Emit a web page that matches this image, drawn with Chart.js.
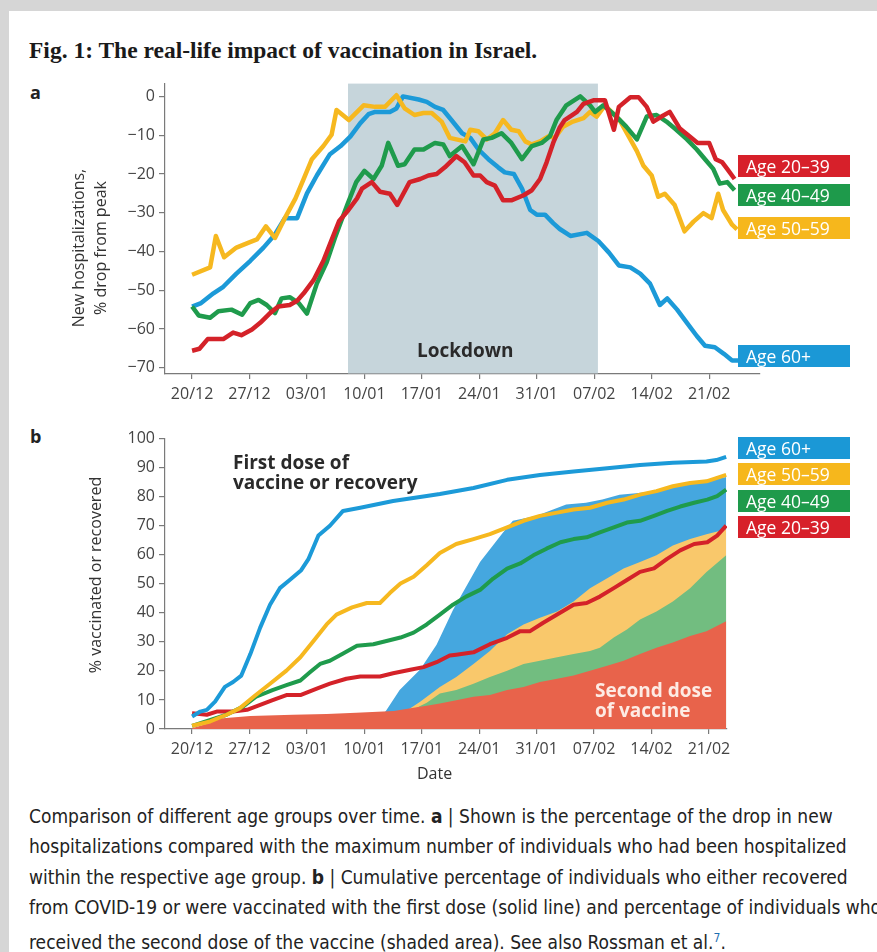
<!DOCTYPE html>
<html>
<head>
<meta charset="utf-8">
<script src="https://cdn.jsdelivr.net/npm/chart.js@4.4.1/dist/chart.umd.min.js"></script>
<style>
  body { margin: 0; width: 877px; height: 952px; overflow: hidden; background: #d6d6d6; font-family: "Open Sans", sans-serif; }
  #page { position: absolute; left: 9px; top: 11px; right: 0; bottom: 0; background: #fff; }
  .abs { position: absolute; white-space: nowrap; }
  canvas { position: absolute; }
  #title { left: 29px; top: 37px; font: bold 23.5px "Liberation Serif", serif; color: #1a1a1a; }
  .panel { font: bold 18px "Open Sans", sans-serif; color: #222; }
  .ytitle { font-size: 16px; color: #333; text-align: center; line-height: 22px; transform: rotate(-90deg); }
  .note { font: bold 19px "Open Sans", sans-serif; color: #2a2a2a; line-height: 20px; }
  .tag { color: #fff; font-size: 17.5px; line-height: 22px; height: 22px; width: 104px; padding-left: 8px; }
  .cap { left: 29px; font-family: "Liberation Sans Narrow", "DejaVu Sans Condensed", sans-serif; font-size: 19px; color: #222; line-height: 20px; }
  .cap sup { color: #1f6fb2; font-size: 12px; }
</style>
</head>
<body>
<div id="page"></div>
<div id="title" class="abs">Fig. 1: The real-life impact of vaccination in Israel.</div>
<div class="abs panel" style="left:30px; top:80px;">a</div>
<div class="abs panel" style="left:30px; top:424px;">b</div>

<canvas id="chartA" width="740" height="340" style="left:40px; top:70px;"></canvas>
<canvas id="chartB" width="707" height="340" style="left:40px; top:425px;"></canvas>

<div class="abs ytitle" style="left:-21px; top:226px; width:220px;">New hospitalizations,<br>% drop from peak</div>
<div class="abs ytitle" style="left:-25px; top:564px; width:240px;">% vaccinated or recovered</div>
<div class="abs" style="left:417px; top:762px; font-size:16px; color:#333;">Date</div>

<div class="abs note" style="left:417px; top:340px;">Lockdown</div>
<div class="abs note" style="left:233px; top:452px;">First dose of<br>vaccine or recovery</div>
<div class="abs note" style="left:595px; top:680px; color:#fdebe4;">Second dose<br>of vaccine</div>

<div class="abs tag" style="left:738px; top:155px; background:#d7202a;">Age 20–39</div>
<div class="abs tag" style="left:738px; top:184px; background:#1e9a4b;">Age 40–49</div>
<div class="abs tag" style="left:738px; top:217px; background:#f6b71c;">Age 50–59</div>
<div class="abs tag" style="left:738px; top:345px; background:#1b98d6;">Age 60+</div>

<div class="abs tag" style="left:738px; top:437px; background:#1b98d6;">Age 60+</div>
<div class="abs tag" style="left:738px; top:463px; background:#f6b71c;">Age 50–59</div>
<div class="abs tag" style="left:738px; top:490px; background:#1e9a4b;">Age 40–49</div>
<div class="abs tag" style="left:738px; top:516px; background:#d7202a;">Age 20–39</div>

<div class="abs cap" style="top:806px;">Comparison of different age groups over time. <b>a</b> | Shown is the percentage of the drop in new</div>
<div class="abs cap" style="top:836px;">hospitalizations compared with the maximum number of individuals who had been hospitalized</div>
<div class="abs cap" style="top:867px;">within the respective age group. <b>b</b> | Cumulative percentage of individuals who either recovered</div>
<div class="abs cap" style="top:897px;">from COVID-19 or were vaccinated with the first dose (solid line) and percentage of individuals who</div>
<div class="abs cap" style="top:928px;">received the second dose of the vaccine (shaded area). See also Rossman et al.<sup>7</sup>.</div>

<script>
// day 0 = 20 Dec 2020
const tickDays = [0, 7, 14, 21, 28, 35, 42, 49, 56, 63];
const tickLabels = ["20/12", "27/12", "03/01", "10/01", "17/01", "24/01", "31/01", "07/02", "14/02", "21/02"];
const lockdown = [19, 49.45];

// panel a: new hospitalizations, % drop from peak  [day, value]
const hosp2039 = [[0,-65.6],[0.9,-65.1],[1.9,-62.6],[3.8,-62.6],[5,-60.9],[6,-61.6],[7.3,-60.1],[8.3,-58.4],[9.5,-55.9],[10.5,-54.2],[11.9,-53.8],[12.8,-52.7],[13.6,-50.8],[14.8,-47.4],[16,-42.4],[16.8,-38.1],[17.9,-32.2],[18.9,-29.7],[20.1,-26.3],[20.7,-23.8],[21.9,-22.1],[22.9,-24.6],[24.1,-25.1],[25,-28],[26.5,-22.1],[27.8,-21.3],[28.8,-20.4],[29.8,-20],[30.8,-18.3],[32.2,-15.4],[33.2,-17],[34.3,-20.4],[35.1,-20.4],[35.9,-22.1],[36.9,-23],[37.9,-26.8],[38.9,-26.8],[40.4,-25.5],[41.4,-24.2],[42.4,-21.3],[43.2,-17],[44,-12],[44.8,-8],[45.4,-6.1],[46.9,-4],[47.7,-1.9],[48.9,-1],[50.3,-1],[51.4,-8.6],[52,-2.7],[53.4,-0.2],[54.4,-0.2],[55.4,-2.7],[56.2,-6.5],[57.2,-5.2],[58.2,-4],[59.4,-8.2],[60.6,-10.3],[61.6,-12],[63,-12],[63.8,-16.2],[64.6,-17],[65.2,-18.7],[66.1,-21.3]];
const hosp4049 = [[0,-54.2],[0.8,-56.5],[2.2,-57.1],[3.2,-55.4],[4.8,-55],[6.1,-56.3],[7.1,-53.3],[8.1,-52.5],[9.1,-53.8],[10.1,-55.9],[10.9,-52.1],[11.9,-51.8],[13,-53.3],[14,-56],[15.2,-48.3],[16.4,-42.8],[17.4,-36.5],[18.9,-28],[20,-22.1],[21,-19.2],[22.1,-21.3],[23.1,-17.9],[23.9,-12],[25.1,-17.9],[25.9,-17.5],[27.1,-13.7],[28.2,-13.7],[29.6,-12],[30.6,-12.4],[31.4,-15.4],[32.9,-12.8],[34.3,-17.5],[35.5,-11.1],[36.5,-10.7],[37.7,-9.5],[38.9,-12],[40.2,-16.2],[41.4,-12.8],[42.6,-12],[43.6,-10.3],[44.4,-6.1],[45.6,-2.3],[47.3,0],[48.5,-2.3],[49.1,-4],[50.1,-2.3],[51.7,-5.2],[52.9,-7.8],[54.2,-11.1],[55.4,-5.2],[56.6,-4.8],[57.8,-6.5],[59,-8.6],[60.3,-11.1],[61.5,-13.7],[62.5,-16.2],[63.5,-18.7],[64.3,-22.5],[65.2,-22.1],[66.1,-24.2]];
const hosp5059 = [[0,-46],[2.2,-44.1],[2.9,-36],[3.9,-41.5],[5.4,-39],[6.9,-37.7],[7.9,-36.9],[9,-33.5],[10.1,-36.5],[11.3,-31.4],[12.6,-26.3],[13.6,-21.3],[14.6,-16.2],[16,-12.8],[17,-9.9],[17.6,-3.5],[19.1,-6.1],[20.9,-2.3],[22.3,-2.7],[23.5,-2.7],[24.9,0.3],[25.9,-3.1],[27.1,-4.8],[28.2,-4.3],[29.2,-4.3],[30.4,-6.5],[31.4,-10.7],[32.2,-11.1],[33.3,-11.6],[33.9,-8.6],[34.9,-9],[35.9,-11.1],[36.9,-9.5],[37.9,-6.1],[38.9,-8.6],[39.8,-9],[40.6,-11.6],[41.4,-12.4],[42.4,-11.6],[43.4,-10.3],[44.2,-10.7],[45.2,-7.8],[46.4,-6.5],[47.7,-5.6],[48.5,-4],[49.3,-5.2],[50.3,-2.3],[51.1,-4],[52.1,-6.1],[53.2,-10.3],[54.2,-14.1],[55,-17.9],[56,-20.4],[56.8,-25.9],[57.6,-25.1],[58.8,-28],[60,-34.8],[61.1,-32.3],[62.3,-30.1],[63.3,-31.4],[64.1,-25.1],[64.7,-29.3],[65.8,-33.1],[66.4,-34.3]];
const hosp60 = [[0,-54.2],[1.1,-53.3],[2.6,-50.8],[3.8,-49.1],[5.4,-45.7],[7.1,-42.4],[8.7,-39],[10.1,-35.6],[11.3,-31.4],[12.8,-31.4],[14,-25],[15.2,-20.4],[16.8,-14.9],[18.1,-12.8],[19.3,-10.3],[20.5,-6.9],[21.5,-4.6],[22.3,-4],[24.1,-4],[24.9,-3.1],[25.7,0],[27.6,-0.8],[28.6,-1.4],[29.6,-2.7],[30.6,-3.5],[31.6,-6.1],[32.9,-9.5],[33.9,-10.7],[34.9,-13.7],[36.1,-16.2],[37.3,-18.3],[38.1,-19.6],[39.2,-20],[40.2,-23.8],[41.2,-29.3],[42,-30.5],[43,-30.5],[44,-32.7],[44.8,-34.2],[46.1,-36],[48.1,-35.2],[49.5,-37.3],[50.8,-40.3],[52,-43.6],[53.4,-44.1],[54.6,-45.7],[55.8,-48.3],[57,-53.8],[57.9,-52.1],[59.1,-55],[60.3,-58.4],[61.5,-61.8],[62.5,-64.3],[63.7,-64.7],[64.8,-66.4],[65.8,-68.1],[66.6,-68.1]];

// panel b: first dose or recovery (lines)
const first2039 = [[0,5.4],[1.8,4.9],[3,6],[5,6],[6.7,6.6],[8.3,8.3],[9.9,10],[11.5,11.7],[13.2,11.7],[15.2,13.9],[16.8,15.6],[18.8,17.3],[20.5,18.1],[22.9,18.1],[24.5,19.2],[26.6,20.4],[28.2,21.3],[29.8,23],[31.4,25.3],[32.2,25.6],[34.3,26.4],[36.3,29.2],[38.4,31.4],[40,33.7],[41.2,33.7],[42.8,36.6],[44.5,39.4],[46.5,42.8],[48.1,43.4],[49.7,45.6],[51.4,48.5],[53,51.3],[54.6,54.1],[56.3,55.3],[57.9,58.6],[59.5,61.5],[61.2,63.7],[62.8,64.3],[64,66.6],[65.1,70]];
const first4049 = [[0,1.1],[4.2,4.9],[6.2,7.7],[7.8,11.1],[9.8,13.4],[11.5,15.1],[13.2,16.7],[14.4,19.6],[15.6,22.4],[16.8,23.5],[18.3,25.8],[20.1,28.7],[22.1,29.2],[23.7,30.3],[25.4,31.5],[27,33.2],[28.6,36],[30.2,39.4],[31.8,42.8],[33.4,45.6],[35.1,47.9],[36.7,51.8],[38.4,55.2],[40,57],[41.6,59.8],[43.2,62.1],[44.9,64.3],[46.5,65.4],[48.1,66],[49.7,67.7],[51.4,69.4],[53,71.1],[54.6,71.7],[56.3,73.4],[57.9,75.1],[59.5,76.6],[61.2,77.9],[62.8,79],[64,80.2],[65.1,82.4]];
const first5059 = [[0,1.1],[2.2,2.6],[4.2,4.9],[5.8,7.1],[7.5,11.1],[9.5,15.6],[11.5,20.1],[13.2,24.7],[14.8,30.3],[16.4,36],[17.6,39.4],[19.5,41.9],[21.3,43.4],[22.9,43.4],[24.1,46.8],[25.4,50.1],[27,52.4],[28.6,56.4],[30.2,60.6],[32.2,63.7],[34.3,65.4],[36.3,67.1],[38.4,69.4],[40.4,71.7],[42.4,73.4],[44.5,74.5],[46.5,75.6],[48.5,76.2],[50.6,77.9],[52.6,79],[54.6,80.7],[56.6,81.9],[58.6,83.6],[60.7,84.7],[62.7,85.3],[65.1,87.5]];
const first60 = [[0,4.3],[1,6],[1.8,6.6],[2.8,9.4],[4,14.5],[5,16.2],[6,18.4],[7.1,25.8],[8.3,34.9],[9.5,42.8],[10.7,48.5],[11.9,51.3],[13.3,54.7],[14.2,58.6],[15.4,66.6],[16.8,70],[18.4,75.1],[20.5,76.2],[24.5,78.5],[28.6,80.2],[30.2,80.9],[34.3,83],[38.4,85.8],[42.4,87.5],[46.5,88.7],[50.6,89.8],[54.6,90.9],[58.6,91.7],[62.7,92.1],[63.9,92.6],[65.1,93.7]];

// panel b: second dose (shaded areas)
const second2039 = [[0,0.3],[2,2],[3.4,3.6],[7.1,4.5],[12.3,4.9],[16.4,5.2],[20,5.6],[24.6,6.2],[27,7.3],[28.6,8],[30.2,8.8],[32.2,9.9],[34.3,11.1],[36.3,11.7],[38.4,13.4],[40.4,14.5],[42.4,16.2],[44.5,17.3],[46.5,18.4],[48.5,20.1],[50.6,21.8],[52.6,23.5],[54.6,25.8],[56.6,28],[58.6,29.8],[60.7,32],[62.7,33.7],[65.1,37.1]];
const second4049 = [[0,0],[25,0],[27,6.8],[28.6,9],[30.2,12.2],[32.2,13.4],[34.3,15.6],[36.3,17.9],[38.4,20.1],[40.4,22.4],[42.4,23.5],[44.5,24.7],[46.5,25.8],[48.5,26.9],[49.7,28],[51.4,31.5],[53,34.3],[54.6,37.7],[56.6,40.5],[58.6,43.9],[60.7,48.5],[62.7,54.1],[65.1,59.8]];
const second5059 = [[0,0],[24,0],[26,6],[27.8,9.4],[30.2,14.5],[32.2,17.9],[34.3,22.4],[36.3,26.9],[38.4,32.6],[40.4,36],[42.4,38.3],[44.5,40.5],[46.5,43.9],[48.5,48.5],[50.6,51.9],[52.6,55.3],[54.6,57.5],[56.6,59.8],[58.6,63.2],[60.7,65.4],[62.7,67.1],[65.1,68.8]];
const second60 = [[0,0],[22,0],[23.7,6.5],[25.3,13.4],[27.8,20.5],[29.8,29],[31.8,41],[35.1,57.5],[37.9,67.7],[39.1,71.7],[42,73.4],[44,75.6],[45.6,77.3],[48,77.9],[50,79],[52.1,80.7],[54.1,81.2],[56.1,81.8],[58.1,82.9],[60.1,84.6],[62.2,85.7],[64.2,86.3],[65.1,86.8]];

const red = "#d42229", green = "#1f9b4c", yellow = "#f6b81f", blue = "#1c9ad8";

const pts = arr => arr.map(([x, y]) => ({ x, y }));
const axisGrey = "#7a7a7a";
const tickFont = { family: "Open Sans", size: 16 };

function dateAxis(min, max) {
  return {
    type: "linear", min, max,
    afterBuildTicks: s => { s.ticks = tickDays.map(v => ({ value: v })); },
    afterFit: s => { s.height = 36; },
    ticks: { callback: v => tickLabels[tickDays.indexOf(v)], color: "#444", font: tickFont, padding: 6, maxRotation: 0, autoSkip: false },
    grid: { drawOnChartArea: false, tickLength: 5, color: axisGrey, lineWidth: 1.2 },
    border: { color: axisGrey, width: 1.2 }
  };
}

function valueAxis(min, max, values, fmt) {
  return {
    min, max,
    afterBuildTicks: s => { s.ticks = values.map(v => ({ value: v })); },
    afterFit: s => { s.width = 125; },
    ticks: { callback: fmt, color: "#444", font: tickFont, padding: 4, autoSkip: false },
    grid: { drawOnChartArea: false, tickLength: 6, color: axisGrey, lineWidth: 1.2 },
    border: { color: axisGrey, width: 1.2 }
  };
}

const lockdownBox = {
  id: "lockdownBox",
  beforeDatasetsDraw(chart) {
    const { ctx, chartArea, scales } = chart;
    const x1 = scales.x.getPixelForValue(lockdown[0]);
    const x2 = scales.x.getPixelForValue(lockdown[1]);
    ctx.save();
    ctx.fillStyle = "#c6d5db";
    ctx.fillRect(x1, chartArea.top, x2 - x1, chartArea.bottom - chartArea.top - 0.6);
    ctx.restore();
  }
};

const line = (data, color, w) => ({ data: pts(data), borderColor: color, borderWidth: w, pointRadius: 0, fill: false, tension: 0, borderJoinStyle: "round" });
const area = (data, color) => ({ data: pts(data), borderWidth: 0, backgroundColor: color, pointRadius: 0, fill: "origin", tension: 0 });

const common = {
  responsive: false,
  animation: false,
  events: [],
  plugins: { legend: { display: false }, tooltip: { enabled: false } }
};

new Chart("chartA", {
  type: "line",
  data: {
    datasets: [
      line(hosp2039, red, 4.5),
      line(hosp4049, green, 4.5),
      line(hosp5059, yellow, 4.5),
      line(hosp60, blue, 4.5)
    ]
  },
  options: {
    ...common,
    layout: { padding: { top: 8, right: 20, left: 0, bottom: 0 } },
    scales: {
      x: dateAxis(-3.3, 69.2),
      y: valueAxis(-71.6, 3.3, [-70, -60, -50, -40, -30, -20, -10, 0], v => v < 0 ? "\u2212" + Math.abs(v) : String(v))
    }
  },
  plugins: [lockdownBox]
});

new Chart("chartB", {
  type: "line",
  data: {
    datasets: [
      line(first60, blue, 4),
      line(first5059, yellow, 4),
      line(first4049, green, 4),
      line(first2039, red, 4),
      area(second2039, "#e8634b"),
      area(second4049, "#72bd80"),
      area(second5059, "#f9c86b"),
      area(second60, "#45a7df")
    ]
  },
  options: {
    ...common,
    layout: { padding: { top: 10, right: 20, left: 0, bottom: 0 } },
    scales: {
      x: dateAxis(-3.3, 65.2),
      y: valueAxis(0, 100, [0, 10, 20, 30, 40, 50, 60, 70, 80, 90, 100], v => String(v))
    }
  }
});
</script>
</body>
</html>
